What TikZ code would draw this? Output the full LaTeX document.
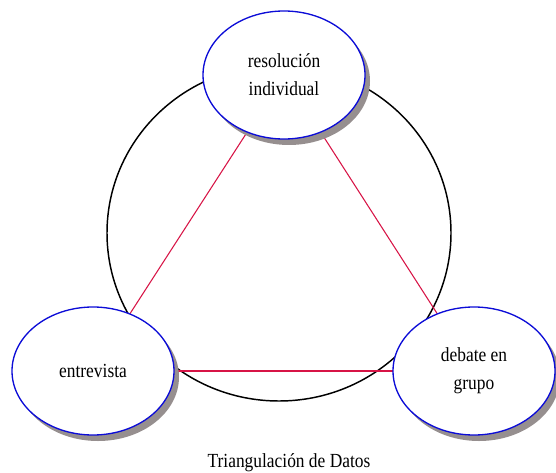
\documentclass[tikz,border=0pt]{standalone}
\usepackage{fontspec}
\setmainfont{Liberation Serif}[FakeStretch=0.87]
\usepackage{xcolor}
\usetikzlibrary{shapes.geometric, shadows, backgrounds}

\definecolor{rimblue}{RGB}{12,12,215}
\definecolor{linkred}{RGB}{215,20,70}
\definecolor{shadowgray}{RGB}{150,143,143}

\begin{document}
\begin{tikzpicture}[
    x=0.75pt, y=0.75pt,
    bubble/.style={ellipse, draw=rimblue, line width=1pt, fill=white, minimum width=121.5pt, minimum height=96pt, inner sep=0pt, align=center, font=\fontsize{15}{21}\selectfont,
        drop shadow={shadow xshift=3.75pt, shadow yshift=-4.5pt, fill=shadowgray, opacity=1}},
    link/.style={draw=linkred, line width=0.8pt},
    ring/.style={draw=black, line width=1.1pt},
]
    \useasboundingbox (0,0) rectangle (556,472);

    % The three sources
    \node[bubble] (indiv) at (284,397) {resoluci\'on\\individual};
    \node[bubble] (entrev) at (93,101) {entrevista};
    \node[bubble] (debate) at (474,101) {debate en\\grupo};

    % Caption
    \node[anchor=base, font=\fontsize{15}{21}\selectfont] (caption) at (289,5) {Triangulaci\'on de Datos};

    % Ring and triangle behind the sources
    \begin{scope}[on background layer]
        \draw[ring] (279,239) ellipse [x radius=129pt, y radius=126pt];
        \draw[link] (indiv.center) -- (entrev.center);
        \draw[link] (indiv.center) -- (debate.center);
        \draw[link] (entrev.center) -- (debate.center);
    \end{scope}
\end{tikzpicture}
\end{document}
